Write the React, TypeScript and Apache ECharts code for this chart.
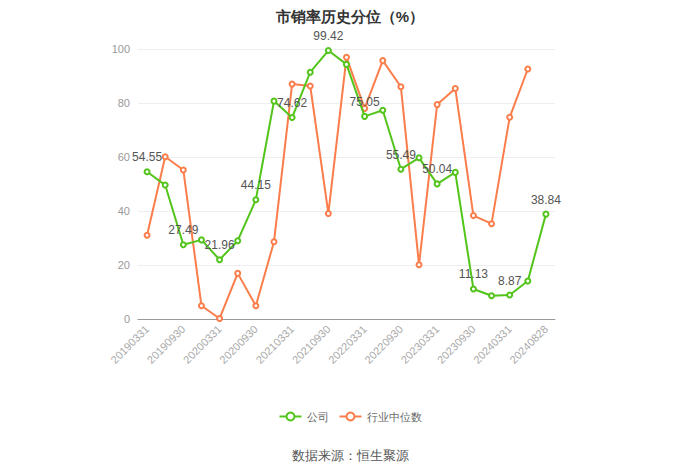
import React, { useEffect, useRef } from "react";
import * as echarts from "echarts";

const categories = [
  "20190331", "20190630", "20190930", "20191231", "20200331", "20200630",
  "20200930", "20201231", "20210331", "20210630", "20210930", "20211231",
  "20220331", "20220630", "20220930", "20221231", "20230331", "20230630",
  "20230930", "20231231", "20240331", "20240630", "20240828",
];

const companyValues = [
  54.55, 49.6, 27.49, 29.3, 21.96, 29.0, 44.15, 80.7, 74.62, 91.4, 99.42, 94.3,
  75.05, 77.3, 55.49, 59.7, 50.04, 54.3, 11.13, 8.6, 8.87, 14.1, 38.84,
];

const industryValues: (number | null)[] = [
  31.0, 60.1, 55.2, 4.9, 0.2, 16.9, 4.9, 28.6, 87.0, 86.3, 39.1, 96.9,
  78.0, 95.7, 86.0, 20.1, 79.4, 85.4, 38.3, 35.3, 74.7, 92.6, null,
];

const yTicks = { min: 0, max: 100, interval: 20 };

export default function App() {
  const ref = useRef<HTMLDivElement>(null);
  useEffect(() => {
    document.body.style.margin = "0";
    if (!ref.current) return;
    const chart = echarts.init(ref.current, undefined, { renderer: "svg" });
    chart.setOption({
      animation: false,
      title: {
        text: "市销率历史分位（%）",
        left: "center",
        top: 4,
        textStyle: { fontSize: 15, fontWeight: "bold", color: "#333" },
      },
      grid: { left: 138, right: 145, top: 49, bottom: 154 },
      legend: {
        bottom: 46,
        left: "center",
        itemWidth: 22,
        itemHeight: 10,
        itemGap: 10,
        textStyle: { color: "#666", fontSize: 11 },
        data: ["公司", "行业中位数"],
      },
      graphic: [
        {
          type: "text",
          left: "center",
          top: 449,
          style: { text: "数据来源：恒生聚源", fill: "#555", fontSize: 13 },
        },
      ],
      xAxis: {
        type: "category",
        data: categories,
        boundaryGap: true,
        axisLine: { lineStyle: { color: "#999" } },
        axisTick: { alignWithLabel: true, interval: 1, lineStyle: { color: "#999" } },
        axisLabel: { rotate: 45, interval: 1, color: "#aaa", fontSize: 11 },
      },
      yAxis: {
        type: "value",
        min: yTicks.min,
        max: yTicks.max,
        interval: yTicks.interval,
        axisLine: { show: false },
        axisTick: { show: false },
        axisLabel: { color: "#999", fontSize: 11 },
        splitLine: { lineStyle: { color: "#eee" } },
      },
      series: [
        {
          name: "公司",
          type: "line",
          data: companyValues,
          symbol: "emptyCircle",
          symbolSize: 5,
          itemStyle: { color: "#52c41a" },
          lineStyle: { width: 2, color: "#52c41a" },
          label: {
            show: true,
            position: "top",
            color: "#555",
            fontSize: 12,
            formatter: (p: any) => (p.dataIndex % 2 === 0 ? String(p.value) : ""),
          },
          z: 3,
        },
        {
          name: "行业中位数",
          type: "line",
          data: industryValues,
          symbol: "emptyCircle",
          symbolSize: 5,
          itemStyle: { color: "#fa7d4b" },
          lineStyle: { width: 2, color: "#fa7d4b" },
          z: 2,
        },
      ],
    });
    return () => chart.dispose();
  }, []);
  return <div ref={ref} style={{ width: 700, height: 473 }} />;
}
